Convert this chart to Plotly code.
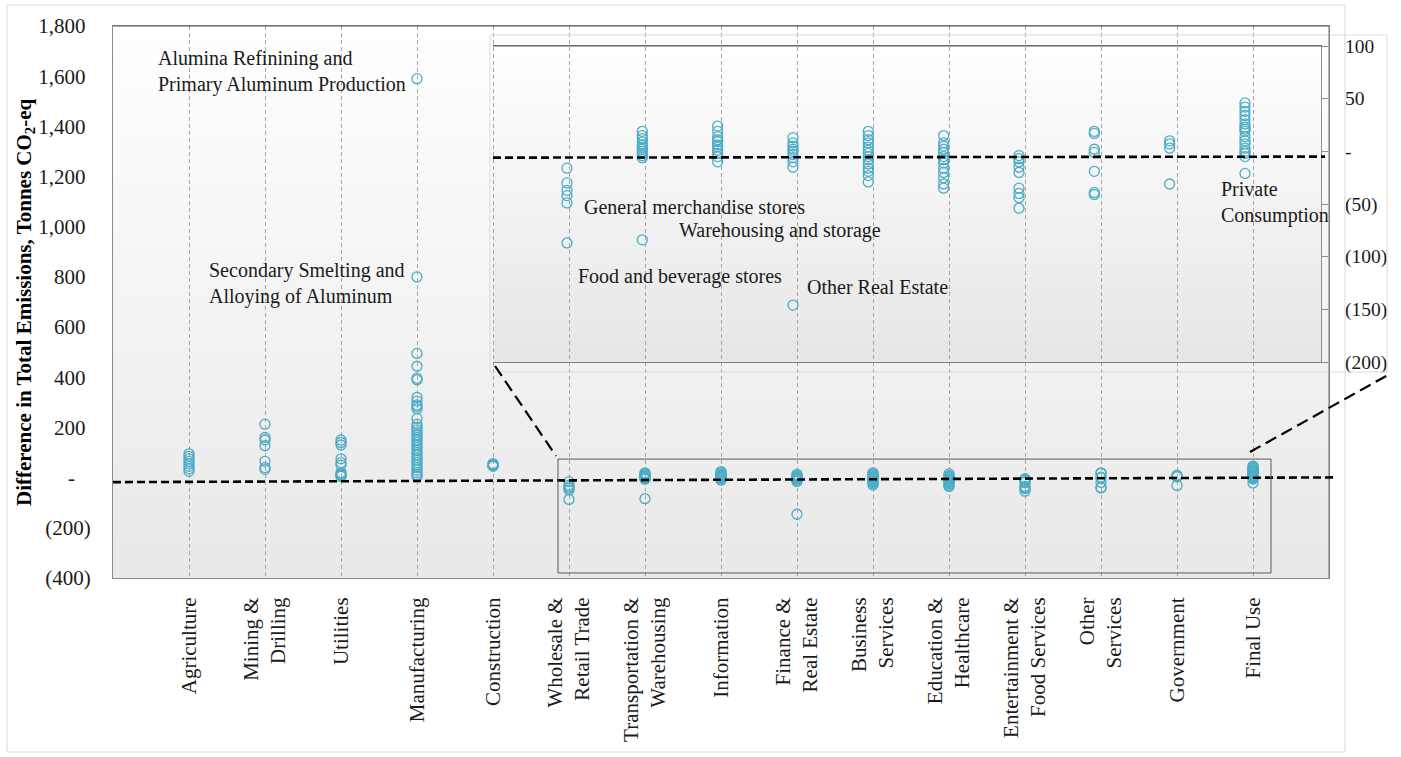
import plotly.graph_objects as go

W, H = 1401, 757
FONT = "Liberation Serif"

# ---- data -----------------------------------------------------------------
SECTORS = [
    "Agriculture", "Mining &<br>Drilling", "Utilities", "Manufacturing",
    "Construction", "Wholesale &<br>Retail Trade", "Transportation &<br>Warehousing",
    "Information", "Finance &<br>Real Estate", "Business<br>Services",
    "Education &<br>Healthcare", "Entertainment &<br>Food Services",
    "Other<br>Services", "Government", "Final Use",
]

agriculture = [95, 85, 75, 65, 55, 45, 35, 25]
mining_drilling = [213, 160, 150, 127, 65, 40, 33]
utilities = [150, 140, 130, 75, 60, 50, 20, 15, 12, 8, 5]
manufacturing = [1590, 800, 495, 444, 396, 390, 320, 305, 290, 284, 275, 236,
                 212, 200, 190, 180, 170, 160, 150, 140, 130, 120, 110, 100,
                 90, 80, 70, 60, 50, 40, 30, 20, 12, 5]
construction = [56, 52, 50, 48, 45]
wholesale_retail = [-16, -30, -37, -42, -49, -87]
transport_warehousing = [19, 15, 12, 9, 6, 4, 2, 0, -2, -4, -6, -84]
information = [24, 19, 14, 11, 9, 6, 4, 1, -2, -5, -10]
finance_real_estate = [13, 8, 5, 2, 0, -3, -6, -10, -15, -146]
business_services = [19, 15, 11, 8, 4, 1, -2, -5, -8, -12, -16, -19, -23, -29]
education_healthcare = [15, 8, 5, 2, -1, -5, -8, -11, -16, -20, -25, -31, -35]
entertainment_food = [-4, -7, -10, -15, -20, -35, -40, -44, -54]
other_services = [19, 17, 2, -1, -19, -39, -41]
government = [10, 7, 3, -31]
final_use = [46, 42, 38, 34, 30, 26, 23, 21, 19, 14, 10, 7, 3, 0, -2, -5, -21]

SERIES = [agriculture, mining_drilling, utilities, manufacturing, construction,
          wholesale_retail, transport_warehousing, information,
          finance_real_estate, business_services, education_healthcare,
          entertainment_food, other_services, government, final_use]

INSET_FIRST = 5  # zoomed panel starts at Wholesale & Retail Trade

MAIN_TICKS = [-400, -200, 0, 200, 400, 600, 800, 1000, 1200, 1400, 1600, 1800]
INSET_TICKS = [-200, -150, -100, -50, 0, 50, 100]


def fmt_main(v):
    nb = "\u00a0"
    if v < 0:
        return f"({abs(v):,})"
    if v == 0:
        return "-" + nb * 3
    return f"{v:,}" + nb


def fmt_inset(v):
    if v < 0:
        return f"({abs(v)})"
    if v == 0:
        return "-"
    return str(v)


# ---- helpers --------------------------------------------------------------
def px(x):
    return x / W


def py(y):
    return 1 - y / H


def gradient(x0, x1, y0, y1, n, c_top, c_bot):
    out = []
    step = (y1 - y0) / n
    for i in range(n):
        t = (i + 0.5) / n
        c = round(c_top + (c_bot - c_top) * t)
        out.append(dict(type="rect", xref="paper", yref="paper", layer="below",
                        x0=px(x0), x1=px(x1), y0=py(y0 + i * step),
                        y1=py(y0 + (i + 1) * step + 0.6),
                        line=dict(width=0), fillcolor=f"rgb({c},{c},{c})"))
    return out


def hline(x0, x1, y, color, width=1):
    return dict(type="line", xref="paper", yref="paper",
                x0=px(x0), x1=px(x1), y0=py(y), y1=py(y),
                line=dict(color=color, width=width))


MARKER = dict(symbol="circle-open", size=10, color="#4bacc6",
              line=dict(width=1.3, color="#4bacc6"))

# ---- traces ---------------------------------------------------------------
main_x, main_y = [], []
for i, vals in enumerate(SERIES):
    main_x += [i] * len(vals)
    main_y += vals

inset_x, inset_y = [], []
for i, vals in enumerate(SERIES):
    if i >= INSET_FIRST:
        inset_x += [i] * len(vals)
        inset_y += vals

fig = go.Figure()
fig.add_trace(go.Scatter(x=main_x, y=main_y, mode="markers", marker=MARKER,
                         xaxis="x", yaxis="y", showlegend=False))
fig.add_trace(go.Scatter(x=inset_x, y=inset_y, mode="markers", marker=MARKER,
                         xaxis="x2", yaxis="y2", showlegend=False))

# ---- shapes ---------------------------------------------------------------
shapes = []
shapes += gradient(113, 1329, 26, 578, 46, 255, 232)
shapes += gradient(493, 1321, 46, 362, 30, 255, 230)

# outer chart border and inset chart-area border
shapes.append(dict(type="rect", xref="paper", yref="paper",
                   x0=px(7), x1=px(1345), y0=py(5), y1=py(752),
                   line=dict(color="#d9d9d9", width=1)))
shapes.append(dict(type="rect", xref="paper", yref="paper",
                   x0=px(490), x1=px(1387), y0=py(35), y1=py(372),
                   line=dict(color="#d9d9d9", width=1)))

# darker top edges of both plot areas
shapes.append(hline(113, 1329, 26, "#595959"))
shapes.append(hline(493, 1321, 46, "#595959"))
shapes.append(dict(type="line", xref="paper", yref="paper",
                   x0=px(1329), x1=px(1329), y0=py(26), y1=py(578),
                   line=dict(color="#737373", width=1)))

# dashed zero reference lines
shapes.append(dict(type="line", xref="paper", yref="y",
                   x0=px(113), x1=px(1337), y0=-18, y1=1,
                   line=dict(color="black", width=2.6, dash="8px,4px")))
shapes.append(dict(type="line", xref="paper", yref="y2",
                   x0=px(493), x1=px(1325), y0=-6, y1=-5,
                   line=dict(color="black", width=2.6, dash="8px,4px")))

# zoom region box on the main panel
shapes.append(dict(type="rect", xref="x", yref="y",
                   x0=4.855, x1=14.237, y0=-380, y1=74,
                   line=dict(color="#595959", width=1)))

# connector lines between zoom box and inset
shapes.append(dict(type="line", xref="paper", yref="paper",
                   x0=px(495), y0=py(366), x1=px(556), y1=py(456),
                   line=dict(color="black", width=2.2, dash="12px,6px")))
shapes.append(dict(type="line", xref="paper", yref="paper",
                   x0=px(1250), y0=py(452), x1=px(1388), y1=py(375),
                   line=dict(color="black", width=2.2, dash="12px,6px")))

# ---- annotations ----------------------------------------------------------
LBL = dict(family=FONT, size=20, color="#1a1a1a")
annotations = [
    dict(text="<b>Difference in Total Emissions, Tonnes CO<sub>2</sub>-eq</b>",
         xref="paper", yref="paper", x=px(25), y=py(302), textangle=-90,
         showarrow=False, font=dict(family=FONT, size=21, color="black"),
         xanchor="center", yanchor="middle"),
    dict(text="Alumina Refinining and<br>Primary Aluminum Production",
         xref="x", yref="y", x=-0.43, y=1619, align="left"),
    dict(text="Secondary Smelting and<br>Alloying of Aluminum",
         xref="x", yref="y", x=0.24, y=774, align="left"),
    dict(text="General merchandise stores", xref="x2", yref="y2", x=5.20, y=-53),
    dict(text="Warehousing and storage", xref="x2", yref="y2", x=6.46, y=-75),
    dict(text="Food and beverage stores", xref="x2", yref="y2", x=5.12, y=-119),
    dict(text="Other Real Estate", xref="x2", yref="y2", x=8.16, y=-129),
    dict(text="Private<br>Consumption", xref="x2", yref="y2", x=13.66, y=-49,
         align="left"),
]
for a in annotations[1:]:
    a.update(showarrow=False, xanchor="left", yanchor="middle", font=LBL)

# ---- layout ---------------------------------------------------------------
fig.update_layout(
    template="none",
    width=W, height=H,
    margin=dict(l=0, r=0, t=0, b=0),
    paper_bgcolor="white",
    plot_bgcolor="rgba(0,0,0,0)",
    showlegend=False,
    shapes=shapes,
    annotations=annotations,
    xaxis=dict(
        domain=[px(113), px(1329)], range=[-1, 15], anchor="y",
        tickmode="array", tickvals=list(range(len(SECTORS))), ticktext=SECTORS,
        tickangle=-90, tickfont=dict(family=FONT, size=21, color="#1a1a1a"),
        ticks="", ticklabelstandoff=10,
        showgrid=True, gridcolor="#a6a6a6", gridwidth=1, griddash="4px,3px",
        zeroline=False, showline=True, mirror=True, linecolor="#8c8c8c",
        automargin=False,
    ),
    yaxis=dict(
        domain=[py(578), py(26)], range=[-400, 1800], anchor="x",
        tickmode="array", tickvals=MAIN_TICKS,
        ticktext=[fmt_main(v) for v in MAIN_TICKS],
        tickfont=dict(family=FONT, size=21, color="#1a1a1a"),
        ticks="", ticklabelstandoff=17,
        showgrid=False, zeroline=False, showline=True, mirror=True,
        linecolor="#8c8c8c", automargin=False,
    ),
    xaxis2=dict(
        domain=[px(493), px(1321)], range=[4.018, 15.009], anchor="y2",
        showticklabels=False, ticks="", showgrid=False, zeroline=False,
        showline=True, mirror=True, linecolor="#7f7f7f", automargin=False,
    ),
    yaxis2=dict(
        domain=[py(362), py(46)], range=[-200, 100], anchor="x2", side="right",
        tickmode="array", tickvals=INSET_TICKS,
        ticktext=[fmt_inset(v) for v in INSET_TICKS],
        tickfont=dict(family=FONT, size=19.5, color="#1a1a1a"),
        ticks="outside", ticklen=6, tickcolor="#8c8c8c", ticklabelstandoff=13,
        showgrid=False, zeroline=False, showline=True, linecolor="#8c8c8c",
        automargin=False,
    ),
)

fig.write_html("out.html")
